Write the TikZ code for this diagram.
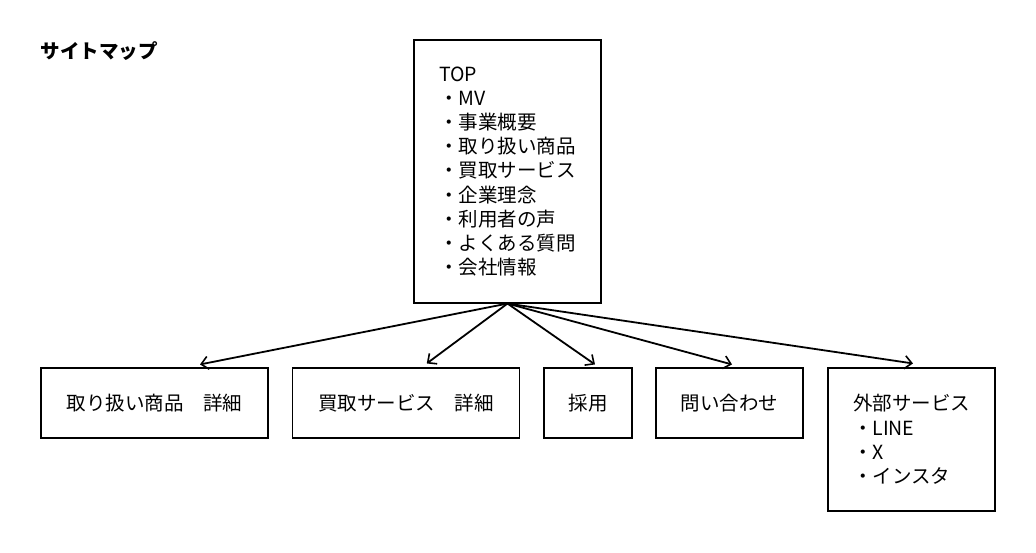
\documentclass[tikz,border=0pt]{standalone}
\usepackage{fontspec}
\setmainfont{Noto Sans CJK JP}
\usetikzlibrary{arrows.meta}
\begin{document}
\begin{tikzpicture}[x=1pt,y=-1pt,
  box/.style={draw=black, line width=1.1pt, fill=white, inner sep=0pt,
    align=left, font=\fontsize{19.5}{24.2}\selectfont},
  link/.style={draw=black, line width=1.8pt,
    -{Straight Barb[length=7pt,width=13pt,line width=1.6pt]}},
  heading/.style={font=\fontsize{19.5}{24}\selectfont\bfseries, inner sep=0pt}]
\useasboundingbox[fill=white] (0,0) rectangle (1036,552);

% title
\node[heading] (title) at (99,51) {サイトマップ};

% top page
\node[box, minimum width=187pt, minimum height=263pt] (top) at (507.5,171.5)
  {TOP\\・MV\\・事業概要\\・取り扱い商品\\・買取サービス\\・企業理念\\・利用者の声\\・よくある質問\\・会社情報};

% sub pages
\node[box, minimum width=227pt, minimum height=70pt] (b1) at (154.5,403) {取り扱い商品　詳細};
\node[box, minimum width=227pt, minimum height=70pt] (b2) at (405.75,403) {買取サービス　詳細};
\node[box, minimum width=88pt, minimum height=70pt] (b3) at (588,403) {採用};
\node[box, minimum width=147pt, minimum height=70pt] (b4) at (729.5,403) {問い合わせ};
\node[box, minimum width=167pt, minimum height=143pt] (b5) at (911.5,439.5)
  {外部サービス\\・LINE\\・X\\・インスタ};

% arrow end points just above each box
\coordinate (e1) at ([xshift=45.5pt,yshift=3pt]b1.north);
\coordinate (e2) at ([xshift=21pt,yshift=4pt]b2.north);
\coordinate (e3) at ([xshift=7pt,yshift=3pt]b3.north);
\coordinate (e4) at ([xshift=2.5pt,yshift=3pt]b4.north);
\coordinate (e5) at ([xshift=1.5pt,yshift=4pt]b5.north);

\foreach \e in {e1,e2,e3,e4,e5}
  \draw[link] (top.south) -- (\e);
\end{tikzpicture}
\end{document}
